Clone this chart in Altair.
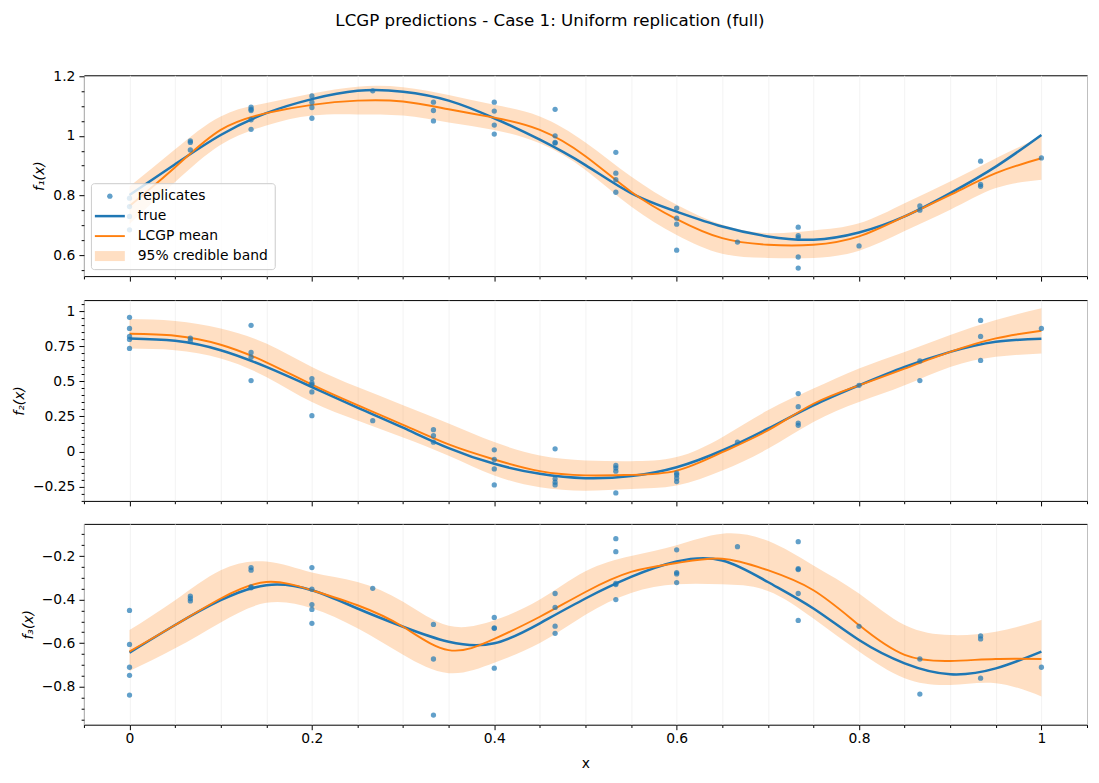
import altair as alt
import pandas as pd

TITLE = "LCGP predictions - Case 1: Uniform replication (full)"

X_GRID = [0.0, 0.05, 0.1, 0.15, 0.2, 0.25, 0.3, 0.35, 0.4, 0.45, 0.5,
          0.55, 0.6, 0.65, 0.7, 0.75, 0.8, 0.85, 0.9, 0.95, 1.0]

# Design points (replicate locations)
X_DESIGN = [0.0, 0.0667, 0.1333, 0.2, 0.2667, 0.3333, 0.4, 0.4667,
            0.5333, 0.6, 0.6667, 0.7333, 0.8, 0.8667, 0.9333, 1.0]

# ---------------- panel 1 ----------------
F1_TRUE = [0.802, 0.905, 1.003, 1.076, 1.123, 1.151, 1.148, 1.118, 1.059, 0.987, 0.902,
           0.808, 0.746, 0.696, 0.663, 0.652, 0.676, 0.730, 0.808, 0.897, 1.003]
F1_MEAN = [0.765, 0.895, 1.020, 1.076, 1.104, 1.118, 1.115, 1.089, 1.061, 1.020, 0.932,
           0.813, 0.721, 0.657, 0.635, 0.635, 0.663, 0.730, 0.802, 0.875, 0.925]
F1_HI = [0.830, 0.955, 1.065, 1.110, 1.142, 1.165, 1.163, 1.137, 1.104, 1.065, 0.978,
         0.864, 0.769, 0.702, 0.674, 0.683, 0.707, 0.774, 0.847, 0.925, 0.998]
F1_LO = [0.705, 0.845, 0.970, 1.035, 1.068, 1.072, 1.068, 1.045, 1.020, 0.975, 0.886,
         0.763, 0.668, 0.605, 0.591, 0.591, 0.615, 0.681, 0.752, 0.825, 0.853]
F1_REPS = [
    [0.791, 0.763, 0.730, 0.685],
    [0.983, 0.978, 0.953],
    [1.096, 1.089, 1.085, 1.054, 1.022],
    [1.134, 1.113, 1.095, 1.059],
    [1.151],
    [1.113, 1.085, 1.050],
    [1.113, 1.083, 1.036, 1.006],
    [1.089, 1.000, 0.978, 0.976],
    [0.945, 0.875, 0.853, 0.811],
    [0.758, 0.724, 0.704, 0.617],
    [0.644],
    [0.694, 0.666, 0.659, 0.594, 0.557],
    [0.631],
    [0.765, 0.751],
    [0.915, 0.837, 0.831],
    [0.926],
]

# ---------------- panel 2 ----------------
F2_TRUE = [0.805, 0.788, 0.721, 0.602, 0.459, 0.312, 0.169, 0.024, -0.088, -0.159, -0.190,
           -0.175, -0.112, 0.007, 0.162, 0.329, 0.471, 0.602, 0.709, 0.781, 0.802]
F2_MEAN = [0.838, 0.824, 0.760, 0.635, 0.476, 0.330, 0.190, 0.050, -0.057, -0.140, -0.170,
           -0.167, -0.136, -0.005, 0.150, 0.340, 0.471, 0.590, 0.709, 0.805, 0.860]
F2_HI = [0.943, 0.929, 0.876, 0.769, 0.602, 0.459, 0.330, 0.200, 0.067, -0.029, -0.064,
         -0.069, -0.040, 0.102, 0.293, 0.448, 0.591, 0.709, 0.829, 0.936, 1.019]
F2_LO = [0.733, 0.721, 0.662, 0.531, 0.352, 0.221, 0.100, -0.030, -0.171, -0.255, -0.279,
         -0.267, -0.243, -0.136, 0.019, 0.210, 0.352, 0.471, 0.602, 0.674, 0.698]
F2_REPS = [
    [0.955, 0.876, 0.819, 0.798, 0.734],
    [0.807, 0.788],
    [0.898, 0.705, 0.671, 0.505],
    [0.519, 0.488, 0.476, 0.424, 0.255],
    [0.219],
    [0.155, 0.112, 0.066],
    [0.012, -0.057, -0.124, -0.238],
    [0.019, -0.195, -0.219, -0.238],
    [-0.100, -0.117, -0.140, -0.295],
    [-0.155, -0.167, -0.190, -0.214],
    [0.067],
    [0.412, 0.319, 0.202, 0.186],
    [0.471],
    [0.645, 0.505],
    [0.933, 0.819, 0.648],
    [0.876],
]

# ---------------- panel 3 ----------------
F3_TRUE = [-0.644, -0.517, -0.403, -0.334, -0.357, -0.441, -0.525, -0.594, -0.601, -0.509, -0.395,
           -0.296, -0.225, -0.220, -0.319, -0.441, -0.586, -0.693, -0.743, -0.716, -0.639]
F3_MEAN = [-0.639, -0.517, -0.395, -0.319, -0.357, -0.426, -0.525, -0.632, -0.581, -0.479, -0.365,
           -0.273, -0.232, -0.212, -0.265, -0.357, -0.517, -0.654, -0.682, -0.673, -0.673]
F3_HI = [-0.540, -0.403, -0.265, -0.225, -0.275, -0.319, -0.410, -0.520, -0.495, -0.400, -0.270,
         -0.200, -0.150, -0.097, -0.130, -0.243, -0.372, -0.517, -0.563, -0.548, -0.494]
F3_LO = [-0.728, -0.624, -0.505, -0.415, -0.440, -0.532, -0.654, -0.738, -0.690, -0.600, -0.470,
         -0.370, -0.330, -0.330, -0.360, -0.487, -0.639, -0.761, -0.792, -0.784, -0.845]
F3_REPS = [
    [-0.450, -0.606, -0.711, -0.748, -0.839],
    [-0.384, -0.395, -0.406],
    [-0.253, -0.265, -0.342, -0.346],
    [-0.253, -0.352, -0.423, -0.445, -0.509],
    [-0.348],
    [-0.514, -0.673, -0.931],
    [-0.482, -0.530, -0.532, -0.715],
    [-0.372, -0.436, -0.522, -0.555],
    [-0.120, -0.180, -0.326, -0.331, -0.400],
    [-0.171, -0.276, -0.282, -0.322],
    [-0.157],
    [-0.134, -0.258, -0.262, -0.372, -0.496],
    [-0.523],
    [-0.673, -0.834],
    [-0.567, -0.581, -0.761],
    [-0.711],
]

LEGEND_LABELS = ["replicates", "true", "LCGP mean", "95% credible band"]

BLUE = "#1f77b4"
ORANGE = "#ff7f0e"
FONT = "DejaVu Sans"
FS = 13.9

LEGEND_COLORS = ["#62a0ca", BLUE, ORANGE, "#ffdfc3"]
# symbol paths drawn at symbolSize 100 (one path unit = 5 px)
LEGEND_SHAPES = [
    "M0.65,0A0.55,0.55,0,1,1,1.75,0A0.55,0.55,0,1,1,0.65,0Z",
    "M-1.8,-0.25L4.2,-0.25L4.2,0.25L-1.8,0.25Z",
    "M-1.8,-0.19L4.2,-0.19L4.2,0.19L-1.8,0.19Z",
    "M-1.8,-1L4.2,-1L4.2,1L-1.8,1Z",
]


def tick_values(lo_k, hi_k):
    return [round(k * 0.05, 2) for k in range(lo_k, hi_k + 1)]


X_TICKS = tick_values(-1, 21)


def major_test(mult):
    return f"abs(datum.value*{mult} - round(datum.value*{mult})) < 1e-6"


def make_panel(true, mean, lo, hi, reps, ydomain, yticks, ymult, ytitle,
               show_x, with_legend):
    cdf = pd.DataFrame({"x": X_GRID, "true": true, "mean": mean, "lo": lo, "hi": hi})
    rows = []
    for xv, ys in zip(X_DESIGN, reps):
        for yv in ys:
            rows.append({"x": xv, "y": yv})
    pdf = pd.DataFrame(rows)

    xscale = alt.Scale(domain=[-0.05, 1.05], nice=False, zero=False)
    yscale = alt.Scale(domain=ydomain, nice=False, zero=False)
    xaxis = alt.Axis(
        values=X_TICKS,
        labelExpr=f"{major_test(5)} ? format(datum.value, '~g') : ''",
        labels=show_x,
        title="x" if show_x else None,
        grid=True, gridColor="#f0f0f0", gridWidth=0.8,
        tickSize={"condition": {"test": major_test(5), "value": 5}, "value": 2.8},
        labelOverlap=False, labelFlush=False, labelPadding=2, titlePadding=11,
    )
    yaxis = alt.Axis(
        values=yticks,
        labelExpr=f"{major_test(ymult)} ? format(datum.value, '~g') : ''",
        title=ytitle, grid=False,
        tickSize={"condition": {"test": major_test(ymult), "value": 5}, "value": 2.8},
        labelOverlap=False,
    )
    X = alt.X("x:Q", scale=xscale, axis=xaxis)

    base = alt.Chart(cdf)
    band = base.mark_area(color=ORANGE, opacity=0.25, interpolate="natural").encode(
        x=X, y=alt.Y("lo:Q", scale=yscale, axis=yaxis), y2="hi:Q")
    tline = base.mark_line(color=BLUE, strokeWidth=2.5, interpolate="natural").encode(
        x=X, y=alt.Y("true:Q", scale=yscale, axis=yaxis))
    mline = base.mark_line(color=ORANGE, strokeWidth=1.9, interpolate="natural").encode(
        x=X, y=alt.Y("mean:Q", scale=yscale, axis=yaxis))
    pts = alt.Chart(pdf).mark_circle(color=BLUE, opacity=0.7, size=28).encode(
        x=X, y=alt.Y("y:Q", scale=yscale, axis=yaxis))
    layers = [band, tline, mline, pts]

    if with_legend:
        leg = dict(
            title=None, orient="bottom-left", offset=7,
            fillColor="rgba(255,255,255,0.8)", strokeColor="#cccccc", cornerRadius=3,
            padding=6, labelFont=FONT, labelFontSize=FS, labelColor="black",
            symbolSize=100, symbolOpacity=1, symbolStrokeWidth=0, labelOffset=27,
            rowPadding=5,
        )
        ldf = pd.DataFrame({"series": LEGEND_LABELS})
        legend_layer = alt.Chart(ldf).mark_point(filled=True, opacity=0).encode(
            color=alt.Color("series:N", sort=None,
                            scale=alt.Scale(domain=LEGEND_LABELS, range=LEGEND_COLORS),
                            legend=alt.Legend(**leg)),
            shape=alt.Shape("series:N", sort=None,
                            scale=alt.Scale(domain=LEGEND_LABELS, range=LEGEND_SHAPES),
                            legend=alt.Legend(**leg)),
        )
        layers.append(legend_layer)

    return alt.layer(*layers).properties(width=1004, height=201)


p1 = make_panel(F1_TRUE, F1_MEAN, F1_LO, F1_HI, F1_REPS, [0.530, 1.203],
                tick_values(11, 24), 5, "f₁(x)", False, True)
p2 = make_panel(F2_TRUE, F2_MEAN, F2_LO, F2_HI, F2_REPS, [-0.352, 1.078],
                tick_values(-7, 21), 4, "f₂(x)", False, False)
p3 = make_panel(F3_TRUE, F3_MEAN, F3_LO, F3_HI, F3_REPS, [-0.975, -0.052],
                tick_values(-19, -2), 5, "f₃(x)", True, False)

chart = (
    alt.vconcat(p1, p2, p3, spacing=14)
    .resolve_scale(color="independent", shape="independent")
    .resolve_legend(color="independent", shape="independent")
    .properties(
        title=alt.TitleParams(TITLE, anchor="middle", font=FONT, fontSize=16.7,
                              fontWeight="normal", color="black", offset=39),
        padding={"left": 11, "top": 12, "right": 11, "bottom": 10},
        background="white",
    )
    .configure_view(stroke="black", strokeWidth=1)
    .configure_axis(
        labelFont=FONT, labelFontSize=FS, labelColor="black",
        titleFont=FONT, titleFontSize=FS, titleColor="black", titleFontWeight="normal",
        tickColor="black", tickWidth=1, domain=False,
        labelPadding=4, titlePadding=6,
    )
    .configure_axisY(titleFontStyle="italic")
)

chart.save("out.html", embed_options={"renderer": "svg", "actions": False})
